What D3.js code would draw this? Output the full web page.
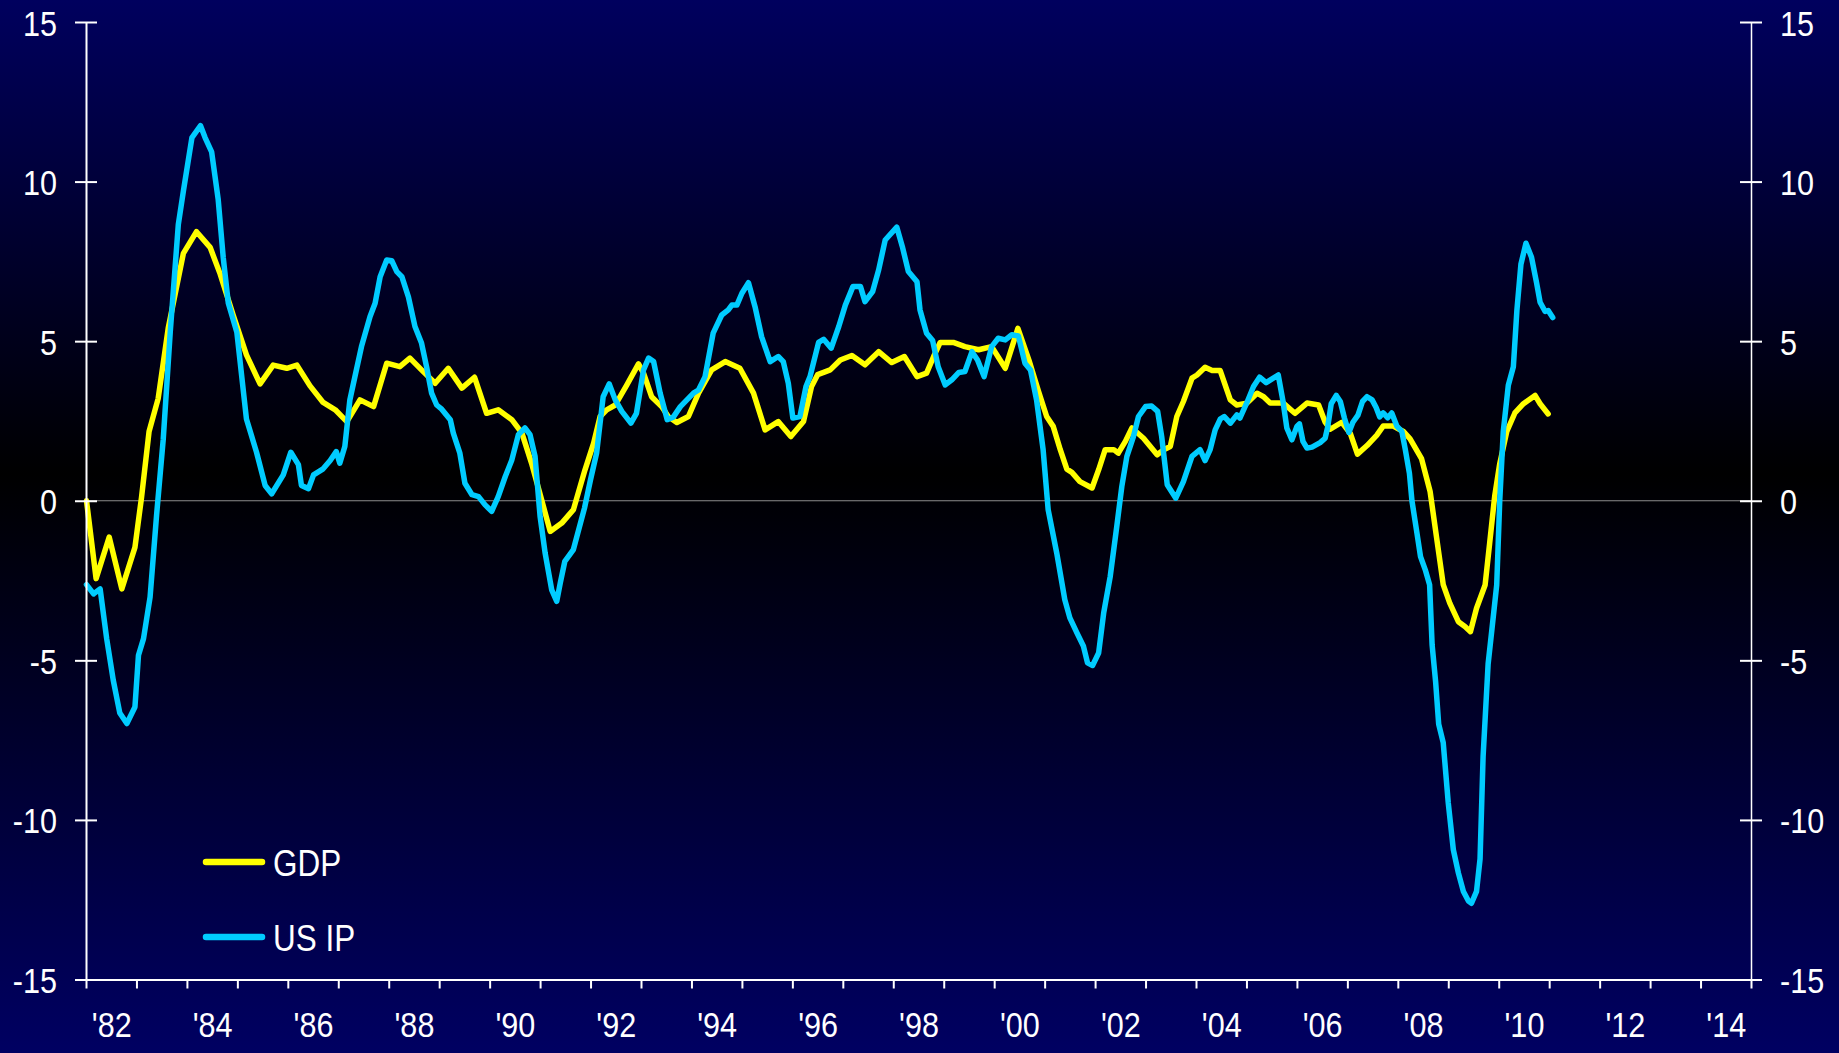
<!DOCTYPE html>
<html>
<head>
  <meta charset="utf-8">
  <title>GDP vs US IP</title>
  <script src="https://cdn.jsdelivr.net/npm/d3@7"></script>
  <style>
    body { margin: 0; background: #000; }
    svg text { font-family: "Liberation Sans", Arial, sans-serif; fill: #fff; }
    .axis path, .axis line { stroke: #fff; stroke-width: 2; }
    .series { fill: none; stroke-width: 5.5; stroke-linejoin: round; stroke-linecap: round; }
  </style>
</head>
<body>
<script>

  // y ticks and year labels
  var yTicks = [-15, -10, -5, 0, 5, 10, 15];
  var yearTicks = d3.range(1982, 2016);
  var labelYears = [1982, 1984, 1986, 1988, 1990, 1992, 1994, 1996, 1998, 2000, 2002, 2004, 2006, 2008, 2010, 2012, 2014];
  var yearLabels = ["'82", "'84", "'86", "'88", "'90", "'92", "'94", "'96", "'98", "'00", "'02", "'04", "'06", "'08", "'10", "'12", "'14"];

  // GDP, % y/y  [decimal year, value]
  var gdp = [
    [1982.01, 0.00], [1982.20, -2.44], [1982.46, -1.14], [1982.71, -2.76], [1982.97, -1.46], [1983.10, 0.10],
    [1983.25, 2.17], [1983.43, 3.20], [1983.63, 5.41], [1983.93, 7.75], [1984.19, 8.43], [1984.46, 7.94],
    [1984.66, 7.10], [1984.92, 5.80], [1985.18, 4.57], [1985.45, 3.66], [1985.71, 4.25], [1985.98, 4.15],
    [1986.18, 4.25], [1986.44, 3.60], [1986.70, 3.08], [1986.94, 2.85], [1987.17, 2.48], [1987.43, 3.16],
    [1987.70, 2.95], [1987.96, 4.31], [1988.22, 4.20], [1988.42, 4.47], [1988.65, 4.10], [1988.92, 3.68],
    [1989.18, 4.15], [1989.45, 3.53], [1989.70, 3.87], [1989.94, 2.74], [1990.17, 2.85], [1990.44, 2.54],
    [1990.64, 2.12], [1990.83, 1.18], [1991.03, 0.03], [1991.20, -0.96], [1991.43, -0.70], [1991.66, -0.28],
    [1991.89, 0.97], [1992.06, 1.80], [1992.19, 2.64], [1992.32, 2.85], [1992.49, 3.00], [1992.72, 3.63],
    [1992.95, 4.29], [1993.05, 4.00], [1993.21, 3.26], [1993.41, 2.95], [1993.54, 2.64], [1993.71, 2.45],
    [1993.94, 2.64], [1994.14, 3.37], [1994.40, 4.10], [1994.67, 4.36], [1994.96, 4.15], [1995.23, 3.37],
    [1995.46, 2.22], [1995.72, 2.48], [1995.97, 2.01], [1996.22, 2.48], [1996.38, 3.58], [1996.50, 3.95],
    [1996.62, 4.02], [1996.75, 4.10], [1996.95, 4.41], [1997.18, 4.55], [1997.44, 4.26], [1997.71, 4.67],
    [1997.97, 4.33], [1998.22, 4.52], [1998.47, 3.89], [1998.66, 4.00], [1998.80, 4.52], [1998.93, 4.96],
    [1999.19, 4.96], [1999.42, 4.83], [1999.69, 4.73], [1999.95, 4.83], [2000.22, 4.15], [2000.47, 5.40],
    [2000.69, 4.40], [2000.88, 3.42], [2001.04, 2.64], [2001.17, 2.33], [2001.31, 1.60], [2001.44, 0.99],
    [2001.54, 0.89], [2001.70, 0.60], [2001.94, 0.40], [2002.07, 0.97], [2002.20, 1.60], [2002.37, 1.60],
    [2002.46, 1.49], [2002.60, 1.86], [2002.73, 2.28], [2002.96, 1.96], [2003.23, 1.44], [2003.36, 1.60],
    [2003.49, 1.70], [2003.62, 2.64], [2003.75, 3.11], [2003.92, 3.84], [2004.02, 3.94], [2004.18, 4.18],
    [2004.32, 4.08], [2004.48, 4.08], [2004.68, 3.16], [2004.81, 3.00], [2005.01, 3.06], [2005.21, 3.37],
    [2005.34, 3.26], [2005.47, 3.06], [2005.73, 3.06], [2005.96, 2.74], [2006.20, 3.06], [2006.43, 3.00],
    [2006.56, 2.46], [2006.66, 2.24], [2006.89, 2.46], [2007.06, 2.10], [2007.20, 1.46], [2007.39, 1.73],
    [2007.58, 2.05], [2007.71, 2.34], [2007.91, 2.34], [2008.11, 2.17], [2008.24, 1.95], [2008.47, 1.32],
    [2008.64, 0.29], [2008.77, -1.17], [2008.90, -2.63], [2009.03, -3.21], [2009.20, -3.79], [2009.33, -3.94],
    [2009.44, -4.10], [2009.56, -3.37], [2009.73, -2.64], [2009.82, -1.33], [2009.92, 0.14], [2010.02, 1.16],
    [2010.16, 2.17], [2010.32, 2.75], [2010.49, 3.04], [2010.72, 3.30], [2010.82, 3.04], [2010.98, 2.72]
  ];

  // US industrial production, % y/y  [decimal year, value]
  var ip = [
    [1982.01, -2.63], [1982.15, -2.92], [1982.28, -2.76], [1982.41, -4.32], [1982.54, -5.62], [1982.67, -6.65],
    [1982.81, -6.98], [1982.97, -6.46], [1983.04, -4.84], [1983.14, -4.32], [1983.27, -3.02], [1983.40, -0.43],
    [1983.53, 1.91], [1983.67, 5.29], [1983.83, 8.66], [1983.93, 9.70], [1984.10, 11.38], [1984.27, 11.75],
    [1984.36, 11.38], [1984.49, 10.93], [1984.62, 9.44], [1984.72, 7.62], [1984.82, 6.20], [1984.99, 5.28],
    [1985.18, 2.56], [1985.38, 1.52], [1985.55, 0.48], [1985.68, 0.22], [1985.91, 0.81], [1986.06, 1.52],
    [1986.21, 1.13], [1986.27, 0.48], [1986.41, 0.38], [1986.51, 0.81], [1986.70, 1.00], [1986.84, 1.26],
    [1986.96, 1.54], [1987.03, 1.18], [1987.13, 1.70], [1987.23, 3.16], [1987.33, 3.89], [1987.46, 4.83],
    [1987.63, 5.77], [1987.73, 6.19], [1987.83, 7.02], [1987.96, 7.54], [1988.06, 7.52], [1988.16, 7.18],
    [1988.26, 7.02], [1988.39, 6.39], [1988.52, 5.46], [1988.65, 4.94], [1988.75, 4.20], [1988.85, 3.37],
    [1988.95, 3.00], [1989.05, 2.87], [1989.22, 2.54], [1989.28, 2.12], [1989.41, 1.49], [1989.51, 0.55],
    [1989.65, 0.19], [1989.78, 0.13], [1989.91, -0.13], [1990.04, -0.33], [1990.17, 0.13], [1990.31, 0.76],
    [1990.44, 1.28], [1990.57, 2.07], [1990.70, 2.28], [1990.80, 2.07], [1990.90, 1.39], [1991.00, -0.49],
    [1991.10, -1.64], [1991.23, -2.79], [1991.33, -3.15], [1991.40, -2.58], [1991.49, -1.90], [1991.66, -1.53],
    [1991.88, -0.23], [1992.00, 0.66], [1992.12, 1.49], [1992.25, 3.26], [1992.37, 3.66], [1992.49, 3.16],
    [1992.62, 2.80], [1992.80, 2.43], [1992.91, 2.74], [1993.05, 4.10], [1993.15, 4.47], [1993.25, 4.36],
    [1993.38, 3.37], [1993.52, 2.54], [1993.64, 2.62], [1993.78, 2.95], [1993.91, 3.16], [1994.04, 3.37],
    [1994.14, 3.47], [1994.27, 3.89], [1994.43, 5.25], [1994.60, 5.82], [1994.73, 5.98], [1994.80, 6.13],
    [1994.90, 6.13], [1995.00, 6.50], [1995.13, 6.83], [1995.26, 6.08], [1995.39, 5.14], [1995.56, 4.36],
    [1995.72, 4.52], [1995.82, 4.36], [1995.92, 3.68], [1996.01, 2.59], [1996.15, 2.64], [1996.27, 3.58],
    [1996.35, 3.89], [1996.52, 4.96], [1996.62, 5.06], [1996.77, 4.78], [1996.92, 5.46], [1997.05, 6.13],
    [1997.20, 6.71], [1997.35, 6.71], [1997.44, 6.24], [1997.59, 6.55], [1997.71, 7.23], [1997.84, 8.17],
    [1998.07, 8.57], [1998.18, 7.96], [1998.30, 7.18], [1998.47, 6.86], [1998.53, 5.98], [1998.66, 5.25],
    [1998.78, 5.02], [1998.89, 4.20], [1999.03, 3.63], [1999.16, 3.79], [1999.30, 4.02], [1999.42, 4.05],
    [1999.56, 4.67], [1999.67, 4.41], [1999.80, 3.89], [1999.95, 4.83], [2000.08, 5.09], [2000.22, 5.04],
    [2000.35, 5.20], [2000.48, 5.16], [2000.61, 4.31], [2000.72, 4.10], [2000.84, 3.16], [2000.97, 1.60],
    [2001.07, -0.28], [2001.24, -1.64], [2001.40, -3.10], [2001.50, -3.67], [2001.64, -4.14], [2001.77, -4.56],
    [2001.85, -5.08], [2001.95, -5.16], [2002.07, -4.77], [2002.17, -3.52], [2002.30, -2.37], [2002.43, -0.80],
    [2002.53, 0.45], [2002.63, 1.39], [2002.76, 2.01], [2002.86, 2.64], [2003.00, 2.95], [2003.12, 2.97],
    [2003.24, 2.80], [2003.32, 2.01], [2003.43, 0.50], [2003.60, 0.08], [2003.75, 0.60], [2003.92, 1.39],
    [2004.08, 1.60], [2004.18, 1.26], [2004.28, 1.60], [2004.38, 2.22], [2004.48, 2.56], [2004.56, 2.64],
    [2004.68, 2.43], [2004.81, 2.69], [2004.87, 2.59], [2005.01, 3.08], [2005.14, 3.58], [2005.26, 3.87],
    [2005.39, 3.70], [2005.50, 3.81], [2005.63, 3.94], [2005.72, 3.16], [2005.80, 2.28], [2005.90, 1.91],
    [2006.00, 2.33], [2006.05, 2.41], [2006.12, 1.86], [2006.20, 1.65], [2006.30, 1.68], [2006.46, 1.82],
    [2006.56, 1.96], [2006.61, 2.31], [2006.68, 3.04], [2006.78, 3.30], [2006.86, 3.11], [2006.94, 2.60],
    [2007.03, 2.14], [2007.11, 2.46], [2007.21, 2.68], [2007.30, 3.11], [2007.39, 3.26], [2007.49, 3.16],
    [2007.57, 2.92], [2007.64, 2.63], [2007.71, 2.75], [2007.80, 2.60], [2007.88, 2.75], [2007.98, 2.34],
    [2008.08, 2.17], [2008.15, 1.59], [2008.23, 0.86], [2008.28, 0.00], [2008.38, -1.02], [2008.45, -1.75],
    [2008.55, -2.19], [2008.63, -2.63], [2008.68, -4.52], [2008.75, -5.69], [2008.81, -7.00], [2008.90, -7.58],
    [2009.00, -9.47], [2009.10, -10.93], [2009.20, -11.66], [2009.30, -12.24], [2009.40, -12.54], [2009.46, -12.61],
    [2009.56, -12.24], [2009.63, -11.22], [2009.69, -8.02], [2009.79, -5.11], [2009.86, -4.10], [2009.96, -2.64],
    [2010.02, 0.00], [2010.09, 2.17], [2010.19, 3.62], [2010.29, 4.20], [2010.36, 5.96], [2010.44, 7.41],
    [2010.54, 8.07], [2010.65, 7.63], [2010.75, 6.83], [2010.82, 6.22], [2010.92, 5.93], [2010.98, 5.96],
    [2011.07, 5.74]
  ];

  var series = [
    {name: "GDP", data: gdp, color: "#ffff00"},
    {name: "US IP", data: ip, color: "#00ccff"}
  ];

  var fullWidth = 1839,
      fullHeight = 1053,
      plotLeft = 86,
      plotRight = 1751,
      plotTop = 22,
      plotBottom = 979.5,
      squeeze = 0.85;   // the original type is a bit narrow

  var x = d3.scaleLinear()
      .domain([1982, 2015])
      .range([plotLeft, plotRight]);

  var y = d3.scaleLinear()
      .domain([-15, 15])
      .range([plotBottom, plotTop]);

  var svg = d3.select("body").append("svg")
      .attr("width", fullWidth)
      .attr("height", fullHeight);

  var grad = svg.append("defs").append("linearGradient")
      .attr("id", "bg")
      .attr("x1", 0).attr("y1", 0)
      .attr("x2", 0).attr("y2", 1);
  grad.append("stop").attr("offset", "0%").attr("stop-color", "#00005e");
  grad.append("stop").attr("offset", "45%").attr("stop-color", "#000000");
  grad.append("stop").attr("offset", "100%").attr("stop-color", "#000062");

  svg.append("rect")
      .attr("width", fullWidth)
      .attr("height", fullHeight)
      .attr("fill", "url(#bg)");

  // zero line
  svg.append("line")
      .attr("x1", x(1982)).attr("x2", x(2015))
      .attr("y1", y(0)).attr("y2", y(0))
      .attr("stroke", "#8c8c8c")
      .attr("stroke-width", 1);

  var line = d3.line()
      .x(function (d) { return x(d[0]); })
      .y(function (d) { return y(d[1]); });

  svg.selectAll("path.series")
      .data(series)
      .enter().append("path")
      .attr("class", "series")
      .attr("stroke", function (d) { return d.color; })
      .attr("d", function (d) { return line(d.data); });

  // y axes, ticks cross the axis line; plain hyphen for negatives
  function yAxis(axis, xPos, side) {
    var g = svg.append("g")
        .attr("class", "axis")
        .attr("transform", "translate(" + xPos + ",0)")
        .call(axis.tickValues(yTicks).tickSize(11).tickSizeOuter(0)
            .tickFormat(function (d) { return String(d); }));
    g.selectAll(".tick line").attr("x1", -11).attr("x2", 11);
    g.selectAll(".tick text")
        .attr("x", null)
        .attr("dy", null)
        .attr("fill", "#fff")
        .attr("font-size", 36)
        .attr("text-anchor", side < 0 ? "end" : "start")
        .attr("transform", "translate(" + (side * 29) + ",13) scale(" + squeeze + ",1)");
    return g;
  }

  var leftAxis = yAxis(d3.axisLeft(y), x(1982), -1);
  var rightAxis = yAxis(d3.axisRight(y), x(2015), 1);
  rightAxis.select(".domain").style("stroke-width", 1.5);
  svg.selectAll(".axis").attr("font-family", null);

  // x axis: a tick at each year start, label in the middle of the year
  svg.append("g")
      .attr("class", "axis")
      .attr("transform", "translate(0," + plotBottom + ")")
      .call(d3.axisBottom(x).tickValues(yearTicks).tickSize(9).tickSizeOuter(0).tickFormat(""));

  var xLabels = svg.append("g")
      .attr("transform", "translate(0," + plotBottom + ")")
      .call(d3.axisBottom(x)
          .tickValues(labelYears.map(function (yr) { return yr + 0.5; }))
          .tickSize(0)
          .tickFormat(function (d, i) { return yearLabels[i]; }));
  xLabels.attr("font-family", null);
  xLabels.select(".domain").remove();
  xLabels.selectAll(".tick text")
      .attr("y", null)
      .attr("dy", null)
      .attr("fill", "#fff")
      .attr("font-size", 36)
      .attr("transform", "translate(0,57) scale(" + squeeze + ",1)");

  // legend
  var legend = svg.selectAll("g.legend")
      .data(series)
      .enter().append("g")
      .attr("class", "legend")
      .attr("transform", function (d, i) { return "translate(206," + (862 + i * 75) + ")"; });

  legend.append("line")
      .attr("x1", 0).attr("x2", 56)
      .attr("stroke", function (d) { return d.color; })
      .attr("stroke-width", 6.5)
      .attr("stroke-linecap", "round");

  legend.append("text")
      .attr("font-size", 37)
      .attr("transform", "translate(67,14) scale(" + squeeze + ",1)")
      .text(function (d) { return d.name; });

</script>
</body>
</html>
